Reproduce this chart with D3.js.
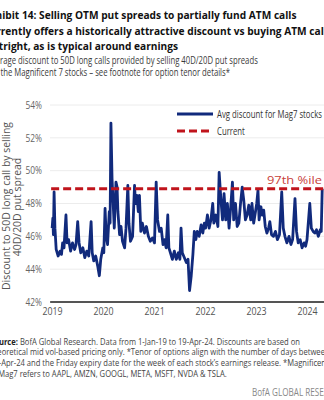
<!DOCTYPE html>
<html><head><meta charset="utf-8">
<script src="https://cdn.jsdelivr.net/npm/d3@7"></script>
<style>
html,body{margin:0;padding:0;background:#fff;overflow:hidden}
svg{display:block}
text{font-family:"Open Sans","Noto Sans",sans-serif}
</style></head>
<body>
<svg id="c" width="324" height="400"></svg>
<script>
// ---------- data ----------
const dates = [
"2019-01-02","2019-01-07","2019-01-11","2019-01-16","2019-01-22","2019-01-31","2019-02-14","2019-02-28","2019-03-10","2019-03-18","2019-03-28",
"2019-04-11","2019-04-19","2019-04-30","2019-05-14","2019-05-28","2019-06-12","2019-06-22","2019-07-04","2019-07-14","2019-07-26","2019-08-10",
"2019-08-24","2019-09-07","2019-09-21","2019-10-08","2019-10-16","2019-10-27","2019-11-10","2019-11-24","2019-12-06","2019-12-16","2019-12-31",
"2020-01-07","2020-01-16","2020-01-24","2020-02-03","2020-02-15","2020-02-21","2020-02-27","2020-03-06","2020-03-14","2020-03-22","2020-04-03",
"2020-04-11","2020-04-17","2020-04-29","2020-05-09","2020-05-20","2020-06-04","2020-06-14","2020-06-27","2020-07-05","2020-07-16","2020-07-31",
"2020-08-14","2020-08-21","2020-08-31","2020-09-10","2020-09-18","2020-09-28","2020-10-09","2020-10-24","2020-11-07","2020-11-21","2020-12-05",
"2020-12-20","2021-01-04","2021-01-16","2021-01-26","2021-02-09","2021-02-21","2021-03-06","2021-03-17","2021-03-28","2021-04-09","2021-04-17",
"2021-04-28","2021-05-12","2021-05-26","2021-06-09","2021-06-24","2021-07-05","2021-07-13","2021-07-22","2021-08-06","2021-08-20","2021-09-01",
"2021-09-12","2021-09-24","2021-10-06","2021-10-16","2021-10-27","2021-11-06","2021-11-20","2021-12-04","2021-12-16","2021-12-27","2022-01-05",
"2022-01-18","2022-01-30","2022-02-12","2022-02-25","2022-03-05","2022-03-20","2022-04-03","2022-04-12","2022-04-24","2022-05-06","2022-05-17",
"2022-05-29","2022-06-10","2022-06-22","2022-07-04","2022-07-16","2022-07-25","2022-08-07","2022-08-19","2022-08-31","2022-09-12","2022-09-24",
"2022-10-05","2022-10-17","2022-10-29","2022-11-10","2022-11-24","2022-12-03","2022-12-15","2022-12-28","2023-01-06","2023-01-15","2023-01-23",
"2023-02-05","2023-02-14","2023-02-25","2023-03-08","2023-03-20","2023-04-01","2023-04-10","2023-04-22","2023-05-06","2023-05-20","2023-06-03",
"2023-06-18","2023-07-04","2023-07-15","2023-07-27","2023-08-10","2023-08-25","2023-09-08","2023-09-20","2023-10-07","2023-10-18","2023-10-30",
"2023-11-13","2023-11-27","2023-12-11","2023-12-22","2024-01-01","2024-01-21","2024-02-01","2024-02-14","2024-02-26","2024-03-09","2024-03-22",
"2024-04-05","2024-04-12","2024-04-19"
];
const values = [
46.5,47.1,46.1,48.7,46.5,45.2,44.8,45.1,44.9,45.6,45.3,
47.3,45.6,45.8,45.1,45.6,45.2,45.5,46.9,45.6,45.0,45.3,
44.7,45.1,44.8,46.9,45.0,44.5,44.8,44.2,43.6,44.6,45.3,
45.0,47.7,46.0,45.5,47.5,46.8,52.9,49.5,48.0,46.5,49.3,
49.0,47.5,46.1,46.6,45.7,45.3,46.5,49.1,46.8,45.7,46.0,
49.1,48.0,48.5,47.5,48.5,46.3,46.8,46.2,46.6,46.0,45.7,
45.9,45.6,49.3,47.0,46.3,46.5,45.5,45.8,45.3,47.3,45.3,
45.0,44.6,45.1,44.6,45.0,44.6,46.5,45.0,44.7,44.4,44.6,
42.7,43.6,44.9,46.3,45.8,46.3,46.0,46.7,46.2,46.8,46.5,
47.3,46.5,47.0,48.0,46.8,47.3,46.6,49.9,48.3,47.0,48.6,
47.0,48.0,46.5,47.8,49.3,47.0,48.0,46.6,46.8,48.0,49.0,
48.2,47.0,47.3,47.9,47.0,48.0,46.8,47.5,48.0,48.8,47.0,
47.8,47.3,47.6,46.6,46.2,46.5,46.9,46.1,46.0,46.3,45.8,
46.1,48.7,46.5,46.0,45.6,46.0,45.5,45.8,48.3,46.3,45.6,
45.8,45.3,45.6,45.4,45.8,48.0,46.5,46.3,46.2,46.4,46.0,
46.4,46.3,48.9
];
const currentValue = 48.9;
const yTicks = [42,44,46,48,50,52,54];
const xTickLabels = ["2019","2020","2021","2022","2023","2024"];
const seriesNames = ["Avg discount for Mag7 stocks","Current"];
const percentileLabel = "97th %ile";
const titleLines = [
 "Exhibit 14: Selling OTM put spreads to partially fund ATM calls",
 "Currently offers a historically attractive discount vs buying ATM calls",
 "Outright, as is typical around earnings"];
const subtitleLines = [
 "Average discount to 50D long calls provided by selling 40D/20D put spreads",
 "for the Magnificent 7 stocks \u2013 see footnote for option tenor details*"];
const yTitleLines = ["Discount to 50D long call by selling","40D/20D put spread"];
const footLines = [
 ["Source: ","BofA Global Research. Data from 1-Jan-19 to 19-Apr-24. Discounts are based on"],
 ["","theoretical mid vol-based pricing only. *Tenor of options align with the number of days between"],
 ["","19-Apr-24 and the Friday expiry date for the week of each stock\u2019s earnings release. *Magnificent 7"],
 ["","7/Mag7 refers to AAPL, AMZN, GOOGL, META, MSFT, NVDA & TSLA."]];
const brand = "BofA GLOBAL RESEARCH";

// ---------- drawing ----------
const W = 324, H = 400;
const NAVY = "#112a7c", RED = "#c0141c";
const svg = d3.select("#c");
const parse = d3.timeParse("%Y-%m-%d");
const data = dates.map((d,i)=>({date:parse(d), v:values[i]}));

const x = d3.scaleTime().domain([new Date(2019,0,1), new Date(2024,0,1)]).range([52,307]);
const y = d3.scaleLinear().domain([42,54]).range([302,105]);

function fit(sel, target){
  const fs = parseFloat(sel.attr("font-size"));
  const w = sel.node().getComputedTextLength();
  const nfs = fs*target/w;
  sel.attr("font-size", nfs);
  return nfs;
}
// horizontal squeeze (emulates the condensed face of the original)
function squeeze(sel, ratio){
  sel.each(function(){
    const w = this.getComputedTextLength();
    d3.select(this).attr("textLength", w*ratio).attr("lengthAdjust","spacingAndGlyphs");
  });
}
function squeezeTo(sel, target){
  const w = sel.node().getComputedTextLength();
  sel.attr("textLength", target).attr("lengthAdjust","spacingAndGlyphs");
  return target/w;
}

// title
const tx0 = -16;
const t1 = svg.append("text").attr("x",tx0).attr("y",19).attr("font-size",13).attr("font-weight","bold").attr("fill","#111").text(titleLines[0]);
const tfs = fit(t1, 297 - tx0);
svg.append("text").attr("x",-17).attr("y",35).attr("font-size",tfs).attr("font-weight","bold").attr("fill","#111").text(titleLines[1]);
svg.append("text").attr("x",tx0).attr("y",49.5).attr("font-size",tfs).attr("font-weight","bold").attr("fill","#111").text(titleLines[2]);

// subtitle
const sx0 = -12;
const s2 = svg.append("text").attr("x",sx0).attr("y",75.5).attr("font-size",11.5).attr("fill","#3a3a3a").text(subtitleLines[1]);
const sr = squeezeTo(s2, 230 - sx0);
const s1 = svg.append("text").attr("x",sx0-1).attr("y",63.5).attr("font-size",11.5).attr("fill","#3a3a3a").text(subtitleLines[0]);
squeeze(s1, sr);

// gridlines
svg.append("g").selectAll("line").data(yTicks.slice(1)).join("line")
  .attr("x1",50).attr("x2",W).attr("y1",d=>y(d)).attr("y2",d=>y(d))
  .attr("stroke","#ececec").attr("stroke-width",1);

// y axis labels
const ya = svg.append("g").attr("transform","translate(42,0)")
  .call(d3.axisLeft(y).tickValues(yTicks).tickFormat(d=>d+"%").tickSize(0).tickPadding(0));
ya.select(".domain").remove();
ya.selectAll("text").attr("font-size",10).attr("fill","#666").attr("font-family","'Open Sans',sans-serif");
squeeze(ya.selectAll("text"), 0.84);

// x axis
const xa = svg.append("g").attr("transform",`translate(0,${y(42)})`)
  .call(d3.axisBottom(x).tickValues(xTickLabels.map(s=>new Date(+s,0,1))).tickFormat(d3.timeFormat("%Y")).tickSize(0).tickPadding(6));
xa.select(".domain").remove();
xa.selectAll("text").attr("font-size",10.5).attr("fill","#555").attr("font-family","'Open Sans',sans-serif");
squeeze(xa.selectAll("text"), 0.84);
svg.append("line").attr("x1",x(data[0].date)-2).attr("x2",W).attr("y1",y(42)).attr("y2",y(42))
  .attr("stroke","#555").attr("stroke-width",2);

// y title
const yt = svg.append("g");
const yt1 = yt.append("text").attr("transform","translate(6,206) rotate(-90)").attr("text-anchor","middle")
  .attr("dy","0.35em").attr("font-size",10).attr("fill","#555").text(yTitleLines[0]);
const yr = squeezeTo(yt1,168);
const yt2 = yt.append("text").attr("transform","translate(17,207) rotate(-90)").attr("text-anchor","middle")
  .attr("dy","0.35em").attr("font-size",10).attr("fill","#555").text(yTitleLines[1]);
squeeze(yt2, yr);

// series line
svg.append("path").datum(data)
  .attr("d", d3.line().x(d=>x(d.date)).y(d=>y(d.v)))
  .attr("fill","none").attr("stroke",NAVY).attr("stroke-width",2.8).attr("stroke-linejoin","round");

// current dashed
svg.append("line").attr("x1",x(data[0].date)-1).attr("x2",W+2)
  .attr("y1",y(currentValue)).attr("y2",y(currentValue))
  .attr("stroke",RED).attr("stroke-width",3).attr("stroke-dasharray","8,4");

const pl = svg.append("text").attr("x",267).attr("y",y(currentValue)-5).attr("font-size",11.5).attr("fill","#c8413a").text(percentileLabel);
squeezeTo(pl, 55);

// legend
const lg = svg.append("g");
lg.append("line").attr("x1",177).attr("x2",213).attr("y1",114).attr("y2",114).attr("stroke",NAVY).attr("stroke-width",3);
lg.append("line").attr("x1",177).attr("x2",211).attr("y1",131).attr("y2",131).attr("stroke",RED).attr("stroke-width",3).attr("stroke-dasharray","8,4");
const l1 = lg.append("text").attr("x",217).attr("y",117.5).attr("font-size",10.5).attr("fill","#333").text(seriesNames[0]);
const lr = squeezeTo(l1, 105);
const l2 = lg.append("text").attr("x",217).attr("y",135).attr("font-size",10.5).attr("fill","#333").text(seriesNames[1]);
squeeze(l2, lr);

// footnote
const fx0 = -10, fys = [344.5,355,366,377];
let fr = 0.82;
footLines.forEach((ln,i)=>{
  const t = svg.append("text").attr("x", i===3 ? -9 : fx0).attr("y",fys[i]).attr("font-size",9.4).attr("fill","#444");
  if(ln[0]) t.append("tspan").attr("font-weight","bold").attr("fill","#222").text(ln[0]);
  t.append("tspan").text(ln[1]);
  if(i===0){ fr = squeezeTo(t, 300 - fx0); } else { squeeze(t, fr); }
});
const br = svg.append("text").attr("x",252).attr("y",396).attr("font-size",10).attr("fill","#888").text(brand);
squeeze(br, fr);
</script>
</body></html>
